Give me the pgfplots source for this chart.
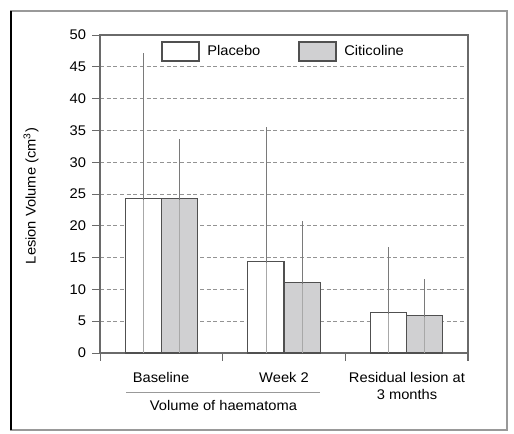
\documentclass[border=0pt]{standalone}
\usepackage{pgfplots}
\pgfplotsset{compat=1.18}
\usepackage{fontspec}
\setmainfont{Liberation Sans}[FakeStretch=1.05]
\definecolor{citi}{HTML}{D0D0D2}
\definecolor{edge}{HTML}{505050}
\definecolor{axc}{HTML}{6A6A6A}
\definecolor{errc}{HTML}{7A7A7A}
\definecolor{errin}{HTML}{A8A8A8}
\begin{document}
\begin{tikzpicture}[x=0.75pt,y=0.75pt,font=\fontsize{10.5pt}{12.5pt}\selectfont]
\path (0,0) rectangle (514,434);
\draw[color=gray!80,line width=1.1pt] (11,4) rectangle (507,423);
\draw[black,line width=0.8pt] (11,4) -- (11,423);
\begin{axis}[
  at={(75pt,60.75pt)}, anchor=south west,
  scale only axis, width=276pt, height=238.5pt,
  xmin=-0.5, xmax=2.5, ymin=0, ymax=50,
  xtick={-0.5,0.5,1.5,2.5}, xticklabels={},
  ytick={0,5,...,50},
  tick pos=left,
  /pgf/number format/assume math mode=true,
  yticklabel style={font=\fontsize{10.5pt}{12.5pt}\selectfont, text=black, xshift=-1pt},
  tick align=outside, major tick length=6pt,
  tick style={color=axc, line width=0.6pt},
  axis line style={color=axc, line width=0.8pt},
  ymajorgrids,
  grid style={color=gray!85, dash pattern=on 3pt off 2pt, line width=0.5pt},
  clip=false,
]
\addplot[ybar, bar width=0.295, bar shift=0, fill=white, draw=edge, line width=0.8pt]
  coordinates {(-0.1475,24.25) (0.8525,14.4) (1.8525,6.4)};
\addplot[ybar, bar width=0.295, bar shift=0, fill=citi, draw=edge, line width=0.8pt]
  coordinates {(0.1475,24.25) (1.1475,11.1) (2.1475,5.9)};
% error lines: full height
\addplot[ycomb, errc, line width=0.6pt, mark=none]
  coordinates {(-0.1475,47.2) (0.8525,35.6) (1.8525,16.6)};
\addplot[ycomb, errc, line width=0.6pt, mark=none]
  coordinates {(0.1475,33.7) (1.1475,20.75) (2.1475,11.6)};
% inside-bar segments, lighter
\addplot[ycomb, errin, line width=0.6pt, mark=none]
  coordinates {(-0.1475,24.0) (0.8525,14.15) (1.8525,6.15)};
\addplot[ycomb, errin, line width=0.6pt, mark=none]
  coordinates {(0.1475,24.0) (1.1475,10.85) (2.1475,5.65)};
\end{axis}
\draw[axc,line width=0.8pt] (468,73) -- (468,399);
\draw[axc,line width=0.8pt] (100,399) -- (468,399);
% legend
\draw[edge,line width=0.8pt,fill=white] (162,373) rectangle (199,392);
\node[anchor=west,inner sep=0pt] at (207,383) {Placebo};
\draw[edge,line width=0.8pt,fill=citi] (299,373) rectangle (336,392);
\node[anchor=west,inner sep=0pt] at (344,383) {Citicoline};
% category labels
\node[inner sep=0pt] at (161,56) {Baseline};
\node[inner sep=0pt] at (284,56) {Week 2};
\node[inner sep=0pt] at (407,56) {Residual lesion at};
\node[inner sep=0pt] at (407,39) {3 months};
\draw[color=gray!80,line width=0.7pt] (126,42) -- (320,42);
\node[inner sep=0pt] at (223.5,28) {Volume of haematoma};
\node[rotate=90,inner sep=0pt] at (31,238) {Lesion Volume (cm\textsuperscript{3})};
\end{tikzpicture}
\end{document}
